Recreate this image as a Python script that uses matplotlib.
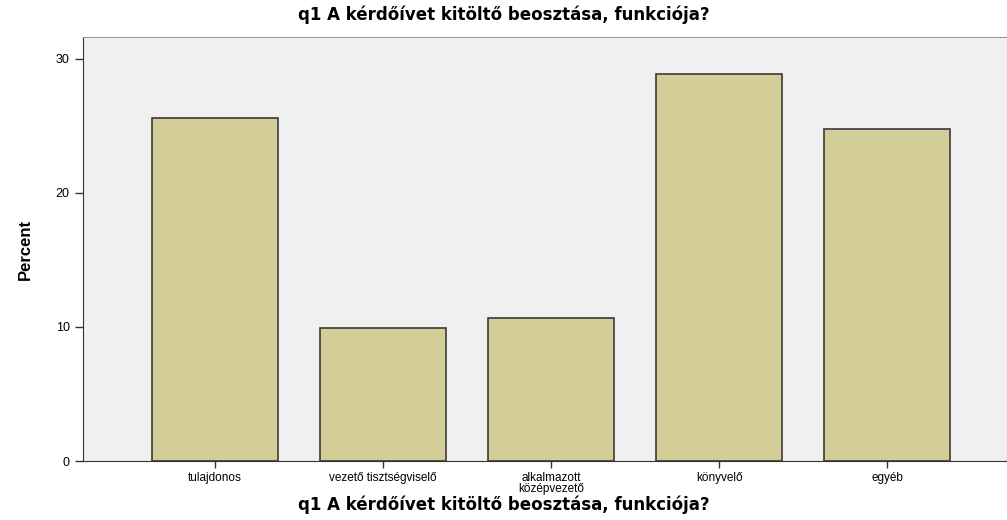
import matplotlib
matplotlib.use("Agg")
import matplotlib.pyplot as plt

# q1 answers, percent of respondents
categories = ['tulajdonos', 'vezető tisztségviselő', 'alkalmazott\nközépvezető', 'könyvelő', 'egyéb']
percents = [25.6, 9.9, 10.7, 28.9, 24.8]
yticks = [0, 10, 20, 30]
title = 'q1 A kérdőívet kitöltő beosztása, funkciója?'

plt.rcParams['font.family'] = ['Liberation Sans', 'DejaVu Sans']

fig = plt.figure(figsize=(10.07, 5.2), dpi=100)
ax = fig.add_axes([83 / 1007, 59 / 520, 924 / 1007, 424 / 520])
ax.set_facecolor('#F0F0F0')

xs = range(len(categories))
ax.bar(xs, percents, width=0.75, color='#D3CE97', edgecolor='#3A3A3A', linewidth=1.2)

ax.set_xlim(-0.786, 4.714)
ax.set_ylim(0, 31.64)
ax.set_xticks(list(xs))
ax.set_xticklabels(categories, fontsize=8.5, linespacing=0.85)
ax.set_yticks(yticks)
ax.tick_params(axis='y', labelsize=9, length=6, width=1, color='#333333')
ax.tick_params(axis='x', length=5, width=1, color='#333333', pad=3)

ax.spines['right'].set_visible(False)
ax.spines['top'].set_color('#999999')
ax.spines['left'].set_color('#333333')
ax.spines['bottom'].set_color('#333333')

# title and x label in a wide bold face, as in the original
fig.text(504 / 1007, 1 - 15 / 520, title, fontsize=12, fontweight='bold',
         family='DejaVu Sans', ha='center', va='center')
fig.text(504 / 1007, 1 - 505 / 520, title, fontsize=12, fontweight='bold',
         family='DejaVu Sans', ha='center', va='center')
fig.text(25 / 1007, 1 - 249 / 520, 'Percent', fontsize=12, fontweight='bold',
         rotation=90, ha='center', va='center')

fig.savefig('out.png', dpi=100)
